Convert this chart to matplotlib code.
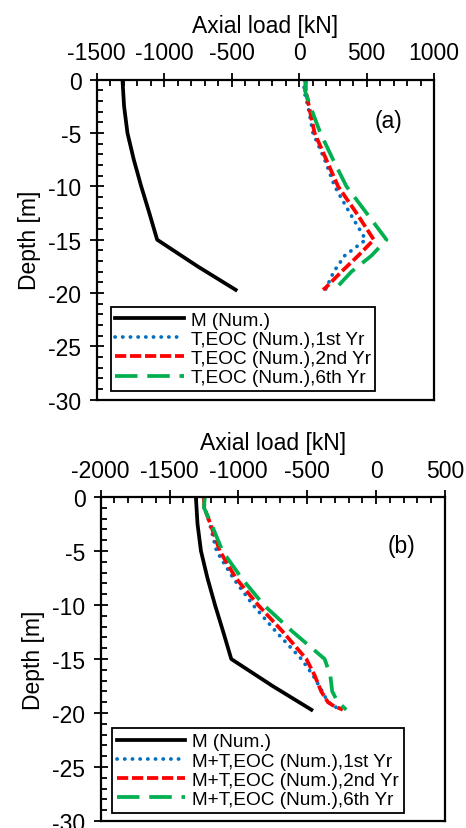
import matplotlib
matplotlib.use("Agg")
import matplotlib.pyplot as plt
from matplotlib.ticker import MultipleLocator

plt.rcParams['font.family'] = ['Liberation Sans', 'DejaVu Sans']
plt.rcParams['axes.unicode_minus'] = False

# ---------------- data ----------------
depth_M = [0, -2.5, -5, -7.5, -10, -12.5, -15, -17.5, -19.7]
load_M = [-1309, -1297, -1272, -1225, -1170, -1110, -1052, -752, -470]

# panel (a): thermal only
depth_a = [0, -1, -2.5, -5, -7.5, -10, -12.5, -15, -16.5, -18, -19.5, -19.7]
T_1st = [41, 36, 66, 103, 190, 264, 376, 494, 338, 257, 202, 195]
T_2nd = [46, 50, 73, 115, 202, 289, 425, 554, 438, 314, 197, 177]
T_6th = [53, 43, 83, 158, 252, 351, 500, 648, 536, 388, 277, 257]

# panel (b): mechanical + thermal
depth_b = [0, -1, -2.5, -5, -7.5, -10, -12.5, -15, -16.5, -18, -19, -19.3, -19.7]
MT_1st = [-1256, -1244, -1208, -1159, -1039, -894, -725, -543, -459, -391, -350, -302, -278]
MT_2nd = [-1251, -1248, -1203, -1135, -1019, -857, -676, -507, -447, -399, -350, -314, -242]
MT_6th = [-1244, -1250, -1196, -1116, -978, -816, -604, -374, -333, -319, -278, -250, -217]

labels_a = ['M (Num.)', 'T,EOC (Num.),1st Yr', 'T,EOC (Num.),2nd Yr', 'T,EOC (Num.),6th Yr']
labels_b = ['M (Num.)', 'M+T,EOC (Num.),1st Yr', 'M+T,EOC (Num.),2nd Yr', 'M+T,EOC (Num.),6th Yr']

xticks_a = [-1500, -1000, -500, 0, 500, 1000]
xticks_b = [-2000, -1500, -1000, -500, 0, 500]
yticks = [0, -5, -10, -15, -20, -25, -30]

# ---------------- styles ----------------
LW = 2.7
sty_M = dict(color='black', lw=LW, linestyle='-')
sty_1 = dict(color='#0070C0', lw=LW, linestyle=(0, (0.05, 2.0)), dash_capstyle='round')
sty_2 = dict(color='#FF0000', lw=LW, linestyle=(0, (3.0, 1.0)))
sty_3 = dict(color='#00B050', lw=LW, linestyle=(0, (6.0, 2.6)))

W, H = 466, 829
fig = plt.figure(figsize=(W / 100, H / 100), dpi=100)


def make_axes(l, r, t, b):
    return fig.add_axes([l / W, 1 - b / H, (r - l) / W, (b - t) / H])


def style_axes(ax, xticks):
    ax.set_xlim(xticks[0], xticks[-1])
    ax.set_ylim(-30, 0)
    ax.xaxis.set_ticks_position('top')
    ax.xaxis.set_label_position('top')
    ax.set_xticks(xticks)
    ax.set_yticks(yticks)
    ax.xaxis.set_minor_locator(MultipleLocator(100))
    ax.yaxis.set_minor_locator(MultipleLocator(1))
    ax.tick_params(axis='both', which='major', direction='inout', length=10,
                   width=1.3, labelsize=16.5, colors='black')
    ax.tick_params(axis='both', which='minor', direction='in', length=4.5, width=1.3)
    ax.tick_params(axis='x', which='both', top=True, bottom=False, pad=6)
    ax.tick_params(axis='y', which='both', left=True, right=False, pad=6)
    for s in ax.spines.values():
        s.set_linewidth(1.6)
    ax.set_xlabel('Axial load [kN]', fontsize=16.5, labelpad=7)
    ax.set_ylabel('Depth [m]', fontsize=16.5, labelpad=5)


# panel (a)
ax1 = make_axes(96.7, 434, 80.7, 400.7)
ax1.plot(load_M, depth_M, label=labels_a[0], **sty_M)
ax1.plot(T_1st, depth_a, label=labels_a[1], **sty_1)
ax1.plot(T_2nd, depth_a, label=labels_a[2], **sty_2)
ax1.plot(T_6th, depth_a, label=labels_a[3], **sty_3)
style_axes(ax1, xticks_a)
ax1.text(0.864, 0.871, '(a)', transform=ax1.transAxes, fontsize=16.5, ha='center', va='center')
leg1 = ax1.legend(loc='lower left', bbox_to_anchor=(0.0415, 0.027), borderaxespad=0,
                  fontsize=13.7, handlelength=3.6, handletextpad=0.35, labelspacing=0.1,
                  borderpad=0.25, fancybox=False, framealpha=1, edgecolor='black')
leg1.get_frame().set_linewidth(1.3)

# panel (b)
ax2 = make_axes(100.7, 445, 498, 822)
ax2.plot(load_M, depth_M, label=labels_b[0], **sty_M)
ax2.plot(MT_1st, depth_b, label=labels_b[1], **sty_1)
ax2.plot(MT_2nd, depth_b, label=labels_b[2], **sty_2)
ax2.plot(MT_6th, depth_b, label=labels_b[3], **sty_3)
style_axes(ax2, xticks_b)
ax2.text(0.874, 0.85, '(b)', transform=ax2.transAxes, fontsize=16.5, ha='center', va='center')
leg2 = ax2.legend(loc='lower left', bbox_to_anchor=(0.033, 0.025), borderaxespad=0,
                  fontsize=13.7, handlelength=3.6, handletextpad=0.35, labelspacing=0.1,
                  borderpad=0.25, fancybox=False, framealpha=1, edgecolor='black')
leg2.get_frame().set_linewidth(1.3)

fig.savefig('out.png', dpi=100)
